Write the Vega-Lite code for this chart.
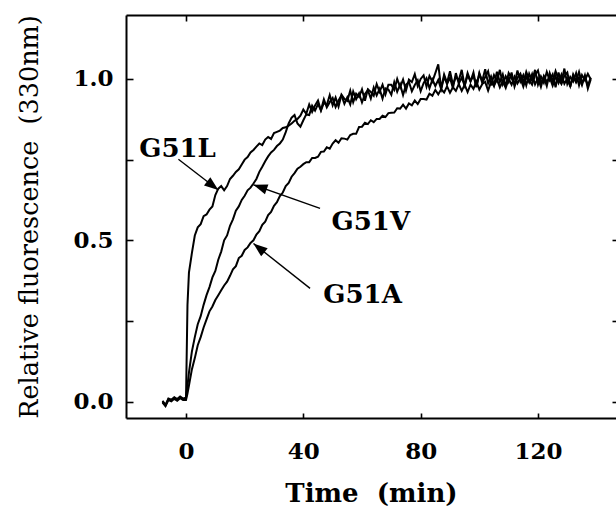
{
  "$schema": "https://vega.github.io/schema/vega-lite/v6.json",
  "width": 490,
  "height": 403,
  "autosize": {"type": "none"},
  "padding": {"left": 126, "top": 15, "right": 0, "bottom": 89},
  "background": "white",
  "config": {
    "view": {"stroke": null},
    "axis": {
      "domainColor": "black",
      "domainWidth": 2,
      "tickColor": "black",
      "tickWidth": 1.6,
      "labelFont": "DejaVu Serif",
      "labelFontSize": 23,
      "labelFontWeight": "bold",
      "labelColor": "black",
      "titleFont": "DejaVu Serif",
      "titleFontWeight": "bold",
      "titleColor": "black",
      "grid": false
    }
  },
  "datasets": {
    "curves": [
      {"t":-8,"L":0.0,"V":0.003,"A":-0.003},
      {"t":-7,"L":-0.012,"V":-0.01,"A":-0.014},
      {"t":-6,"L":0.008,"V":0.01,"A":0.005},
      {"t":-5,"L":0.004,"V":0.006,"A":0.001},
      {"t":-4,"L":0.012,"V":0.014,"A":0.009},
      {"t":-3,"L":0.006,"V":0.008,"A":0.003},
      {"t":-2,"L":0.014,"V":0.016,"A":0.011},
      {"t":-1,"L":0.008,"V":0.01,"A":0.005},
      {"t":0,"L":0.01,"V":0.012,"A":0.005},
      {"t":0.5,"L":0.3,"V":0.05,"A":0.025},
      {"t":1,"L":0.4,"V":0.09,"A":0.05},
      {"t":2,"L":0.46,"V":0.155,"A":0.1},
      {"t":3,"L":0.515,"V":0.2,"A":0.135},
      {"t":4,"L":0.54,"V":0.24,"A":0.175},
      {"t":5,"L":0.55,"V":0.265,"A":0.2},
      {"t":6,"L":0.575,"V":0.3,"A":0.23},
      {"t":7,"L":0.58,"V":0.33,"A":0.255},
      {"t":8,"L":0.595,"V":0.355,"A":0.28},
      {"t":9,"L":0.605,"V":0.385,"A":0.295},
      {"t":10,"L":0.64,"V":0.405,"A":0.315},
      {"t":11,"L":0.66,"V":0.44,"A":0.33},
      {"t":12,"L":0.668,"V":0.465,"A":0.345},
      {"t":13,"L":0.655,"V":0.5,"A":0.36},
      {"t":14,"L":0.668,"V":0.515,"A":0.372},
      {"t":15,"L":0.69,"V":0.545,"A":0.39},
      {"t":16,"L":0.7,"V":0.565,"A":0.41},
      {"t":17,"L":0.712,"V":0.592,"A":0.42},
      {"t":18,"L":0.72,"V":0.605,"A":0.445},
      {"t":19,"L":0.735,"V":0.625,"A":0.452},
      {"t":20,"L":0.75,"V":0.638,"A":0.47},
      {"t":21,"L":0.758,"V":0.655,"A":0.478},
      {"t":22,"L":0.772,"V":0.663,"A":0.492},
      {"t":23,"L":0.78,"V":0.676,"A":0.5},
      {"t":24,"L":0.79,"V":0.69,"A":0.518},
      {"t":25,"L":0.8,"V":0.712,"A":0.528},
      {"t":26,"L":0.795,"V":0.728,"A":0.548},
      {"t":27,"L":0.812,"V":0.745,"A":0.558},
      {"t":28,"L":0.82,"V":0.76,"A":0.578},
      {"t":29,"L":0.814,"V":0.772,"A":0.588},
      {"t":30,"L":0.832,"V":0.78,"A":0.607},
      {"t":31,"L":0.836,"V":0.792,"A":0.618},
      {"t":32,"L":0.84,"V":0.8,"A":0.637},
      {"t":33,"L":0.848,"V":0.812,"A":0.648},
      {"t":34,"L":0.85,"V":0.835,"A":0.668},
      {"t":35,"L":0.855,"V":0.862,"A":0.678},
      {"t":36,"L":0.862,"V":0.88,"A":0.697},
      {"t":37,"L":0.87,"V":0.888,"A":0.708},
      {"t":38,"L":0.876,"V":0.862,"A":0.722},
      {"t":39,"L":0.886,"V":0.852,"A":0.728},
      {"t":40,"L":0.905,"V":0.872,"A":0.736},
      {"t":41,"L":0.892,"V":0.89,"A":0.742},
      {"t":42,"L":0.921,"V":0.888,"A":0.742},
      {"t":43,"L":0.898,"V":0.917,"A":0.755},
      {"t":44,"L":0.918,"V":0.902,"A":0.755},
      {"t":45,"L":0.933,"V":0.922,"A":0.759},
      {"t":46,"L":0.902,"V":0.903,"A":0.774},
      {"t":47,"L":0.926,"V":0.937,"A":0.775},
      {"t":48,"L":0.919,"V":0.912,"A":0.788},
      {"t":49,"L":0.95,"V":0.928,"A":0.784},
      {"t":50,"L":0.918,"V":0.941,"A":0.8},
      {"t":51,"L":0.942,"V":0.913,"A":0.81},
      {"t":52,"L":0.914,"V":0.933,"A":0.802},
      {"t":53,"L":0.951,"V":0.949,"A":0.816},
      {"t":54,"L":0.938,"V":0.923,"A":0.815},
      {"t":55,"L":0.932,"V":0.943,"A":0.812},
      {"t":56,"L":0.964,"V":0.921,"A":0.826},
      {"t":57,"L":0.928,"V":0.961,"A":0.83},
      {"t":58,"L":0.954,"V":0.937,"A":0.83},
      {"t":59,"L":0.944,"V":0.955,"A":0.851},
      {"t":60,"L":0.968,"V":0.927,"A":0.852},
      {"t":61,"L":0.932,"V":0.953,"A":0.864},
      {"t":62,"L":0.968,"V":0.965,"A":0.86},
      {"t":63,"L":0.96,"V":0.939,"A":0.872},
      {"t":64,"L":0.948,"V":0.973,"A":0.866},
      {"t":65,"L":0.984,"V":0.949,"A":0.876},
      {"t":66,"L":0.96,"V":0.969,"A":0.876},
      {"t":67,"L":0.982,"V":0.939,"A":0.886},
      {"t":68,"L":0.952,"V":0.971,"A":0.882},
      {"t":69,"L":0.982,"V":0.967,"A":0.894},
      {"t":70,"L":0.982,"V":0.951,"A":0.895},
      {"t":71,"L":0.966,"V":0.99,"A":0.896},
      {"t":72,"L":1.0,"V":0.96,"A":0.909},
      {"t":73,"L":0.974,"V":0.983,"A":0.908},
      {"t":74,"L":0.998,"V":0.95,"A":0.92},
      {"t":75,"L":0.964,"V":0.982,"A":0.908},
      {"t":76,"L":0.998,"V":0.991,"A":0.924},
      {"t":77,"L":0.99,"V":0.962,"A":0.918},
      {"t":78,"L":1.015,"V":0.981,"A":0.933},
      {"t":79,"L":0.978,"V":0.996,"A":0.922},
      {"t":80,"L":1.0,"V":0.962,"A":0.938},
      {"t":81,"L":1.011,"V":0.987,"A":0.938},
      {"t":82,"L":0.976,"V":1.002,"A":0.936},
      {"t":83,"L":1.009,"V":0.971,"A":0.954},
      {"t":84,"L":0.992,"V":0.998,"A":0.948},
      {"t":85,"L":1.018,"V":0.978,"A":0.966},
      {"t":86,"L":1.045,"V":0.997,"A":0.952},
      {"t":87,"L":0.97,"V":0.968,"A":0.968},
      {"t":88,"L":1.014,"V":1.007,"A":0.958},
      {"t":89,"L":0.988,"V":0.984,"A":0.977},
      {"t":90,"L":1.024,"V":1.004,"A":0.957},
      {"t":91,"L":0.982,"V":0.971,"A":0.974},
      {"t":92,"L":1.006,"V":1.018,"A":0.963},
      {"t":93,"L":0.996,"V":0.985,"A":0.984},
      {"t":94,"L":1.028,"V":1.004,"A":0.963},
      {"t":95,"L":0.978,"V":0.979,"A":0.982},
      {"t":96,"L":1.012,"V":1.018,"A":0.959},
      {"t":97,"L":0.992,"V":0.993,"A":0.982},
      {"t":98,"L":1.02,"V":1.01,"A":0.969},
      {"t":99,"L":0.974,"V":0.976,"A":0.992},
      {"t":100,"L":1.016,"V":1.018,"A":0.967},
      {"t":101,"L":0.994,"V":0.988,"A":0.984},
      {"t":102,"L":1.03,"V":1.006,"A":0.991},
      {"t":103,"L":0.986,"V":1.024,"A":0.964},
      {"t":104,"L":1.008,"V":0.98,"A":0.991},
      {"t":105,"L":0.98,"V":1.012,"A":0.978},
      {"t":106,"L":1.022,"V":0.994,"A":0.999},
      {"t":107,"L":0.99,"V":1.028,"A":0.974},
      {"t":108,"L":1.014,"V":0.984,"A":0.993},
      {"t":109,"L":0.976,"V":1.008,"A":0.972},
      {"t":110,"L":1.018,"V":0.99,"A":1.0},
      {"t":111,"L":1.002,"V":1.02,"A":0.982},
      {"t":112,"L":0.984,"V":0.976,"A":1.007},
      {"t":113,"L":1.026,"V":1.004,"A":0.986},
      {"t":114,"L":0.992,"V":1.016,"A":1.003},
      {"t":115,"L":1.012,"V":0.988,"A":0.976},
      {"t":116,"L":0.98,"V":1.022,"A":1.007},
      {"t":117,"L":1.016,"V":0.996,"A":0.989},
      {"t":118,"L":0.994,"V":0.982,"A":1.015},
      {"t":119,"L":1.028,"V":1.012,"A":0.983},
      {"t":120,"L":0.982,"V":1.026,"A":1.003},
      {"t":121,"L":1.008,"V":0.986,"A":0.975},
      {"t":122,"L":0.988,"V":1.006,"A":1.009},
      {"t":123,"L":1.022,"V":0.978,"A":0.991},
      {"t":124,"L":0.996,"V":1.018,"A":1.005},
      {"t":125,"L":1.014,"V":0.992,"A":0.979},
      {"t":126,"L":0.974,"V":1.024,"A":1.007},
      {"t":127,"L":1.02,"V":0.998,"A":0.987},
      {"t":128,"L":0.99,"V":0.984,"A":1.013},
      {"t":129,"L":1.032,"V":1.01,"A":0.985},
      {"t":130,"L":0.984,"V":1.02,"A":1.001},
      {"t":131,"L":1.006,"V":0.976,"A":0.977},
      {"t":132,"L":0.992,"V":1.014,"A":1.009},
      {"t":133,"L":1.018,"V":0.994,"A":0.989},
      {"t":134,"L":0.98,"V":1.022,"A":1.005},
      {"t":135,"L":1.012,"V":0.986,"A":0.981},
      {"t":136,"L":0.996,"V":1.008,"A":1.011},
      {"t":137,"L":1.016,"V":0.98,"A":0.97},
      {"t":138,"L":0.998,"V":1.004,"A":0.999}
    ],
    "notes": [
      {"label":"G51L","tx":-2.9,"ty":0.759,"x1":-2.6,"y1":0.751,"x2":11.0,"y2":0.656},
      {"label":"G51V","tx":63.0,"ty":0.532,"x1":45.7,"y1":0.599,"x2":23.0,"y2":0.672},
      {"label":"G51A","tx":60.2,"ty":0.305,"x1":42.3,"y1":0.351,"x2":23.0,"y2":0.49}
    ]
  },
  "layer": [
    {
      "data": {"name": "curves"},
      "transform": [{"fold": ["L", "V", "A"], "as": ["series", "f"]}],
      "mark": {"type": "line", "color": "black", "strokeWidth": 2},
      "encoding": {
        "x": {
          "field": "t", "type": "quantitative",
          "scale": {"domain": [-20.46, 146.6], "nice": false, "zero": false},
          "axis": {
            "orient": "bottom", "values": [0, 40, 80, 120], "format": "d",
            "tickSize": -5, "labelPadding": 27,
            "title": "Time\u00a0\u00a0(min)", "titleFontSize": 26, "titlePadding": 17
          }
        },
        "y": {
          "field": "f", "type": "quantitative",
          "scale": {"domain": [-0.0505, 1.198], "nice": false, "zero": false},
          "axis": {
            "orient": "left", "values": [0, 0.25, 0.5, 0.75, 1.0],
            "labelExpr": "datum.value % 0.5 == 0 ? format(datum.value, '.1f') : ''",
            "tickSize": -7, "labelPadding": 20,
            "title": "Relative fluorescence\u00a0\u00a0(330nm)", "titleFontSize": 25.5, "titleFontWeight": "normal", "titlePadding": 30
          }
        },
        "detail": {"field": "series"}
      }
    },
    {
      "data": {"name": "notes"},
      "mark": {"type": "text", "font": "DejaVu Serif", "fontSize": 26, "fontWeight": "bold", "color": "black", "align": "center", "baseline": "alphabetic"},
      "encoding": {
        "x": {
          "field": "tx", "type": "quantitative",
          "scale": {"domain": [-20.46, 146.6], "nice": false, "zero": false},
          "axis": {"orient": "top", "values": [0, 40, 80, 120], "labels": false, "tickSize": -6, "title": null}
        },
        "y": {
          "field": "ty", "type": "quantitative",
          "scale": {"domain": [-0.0505, 1.198], "nice": false, "zero": false},
          "axis": {"orient": "right", "values": [0, 0.25, 0.5, 0.75, 1.0], "labels": false, "domain": false, "tickSize": -4, "title": null}
        },
        "text": {"field": "label"}
      }
    },
    {
      "data": {"name": "notes"},
      "mark": {"type": "rule", "color": "black", "strokeWidth": 1.4},
      "encoding": {
        "x": {"field": "x1", "type": "quantitative", "scale": {"domain": [-20.46, 146.6], "nice": false, "zero": false}, "axis": null},
        "y": {"field": "y1", "type": "quantitative", "scale": {"domain": [-0.0505, 1.198], "nice": false, "zero": false}, "axis": null},
        "x2": {"field": "x2"},
        "y2": {"field": "y2"}
      }
    },
    {
      "data": {"name": "notes"},
      "transform": [{"filter": "datum.label == 'G51L'"}],
      "mark": {"type": "point", "shape": "M0,0L0.75,2L-0.75,2Z", "filled": true, "color": "black", "opacity": 1, "size": 196, "angle": 127.5},
      "encoding": {
        "x": {"field": "x2", "type": "quantitative", "scale": {"domain": [-20.46, 146.6], "nice": false, "zero": false}, "axis": null},
        "y": {"field": "y2", "type": "quantitative", "scale": {"domain": [-0.0505, 1.198], "nice": false, "zero": false}, "axis": null}
      }
    },
    {
      "data": {"name": "notes"},
      "transform": [{"filter": "datum.label == 'G51V'"}],
      "mark": {"type": "point", "shape": "M0,0L0.75,2L-0.75,2Z", "filled": true, "color": "black", "opacity": 1, "size": 196, "angle": -70.7},
      "encoding": {
        "x": {"field": "x2", "type": "quantitative", "scale": {"domain": [-20.46, 146.6], "nice": false, "zero": false}, "axis": null},
        "y": {"field": "y2", "type": "quantitative", "scale": {"domain": [-0.0505, 1.198], "nice": false, "zero": false}, "axis": null}
      }
    },
    {
      "data": {"name": "notes"},
      "transform": [{"filter": "datum.label == 'G51A'"}],
      "mark": {"type": "point", "shape": "M0,0L0.75,2L-0.75,2Z", "filled": true, "color": "black", "opacity": 1, "size": 196, "angle": -51.5},
      "encoding": {
        "x": {"field": "x2", "type": "quantitative", "scale": {"domain": [-20.46, 146.6], "nice": false, "zero": false}, "axis": null},
        "y": {"field": "y2", "type": "quantitative", "scale": {"domain": [-0.0505, 1.198], "nice": false, "zero": false}, "axis": null}
      }
    }
  ],
  "resolve": {"axis": {"x": "independent", "y": "independent"}}
}
